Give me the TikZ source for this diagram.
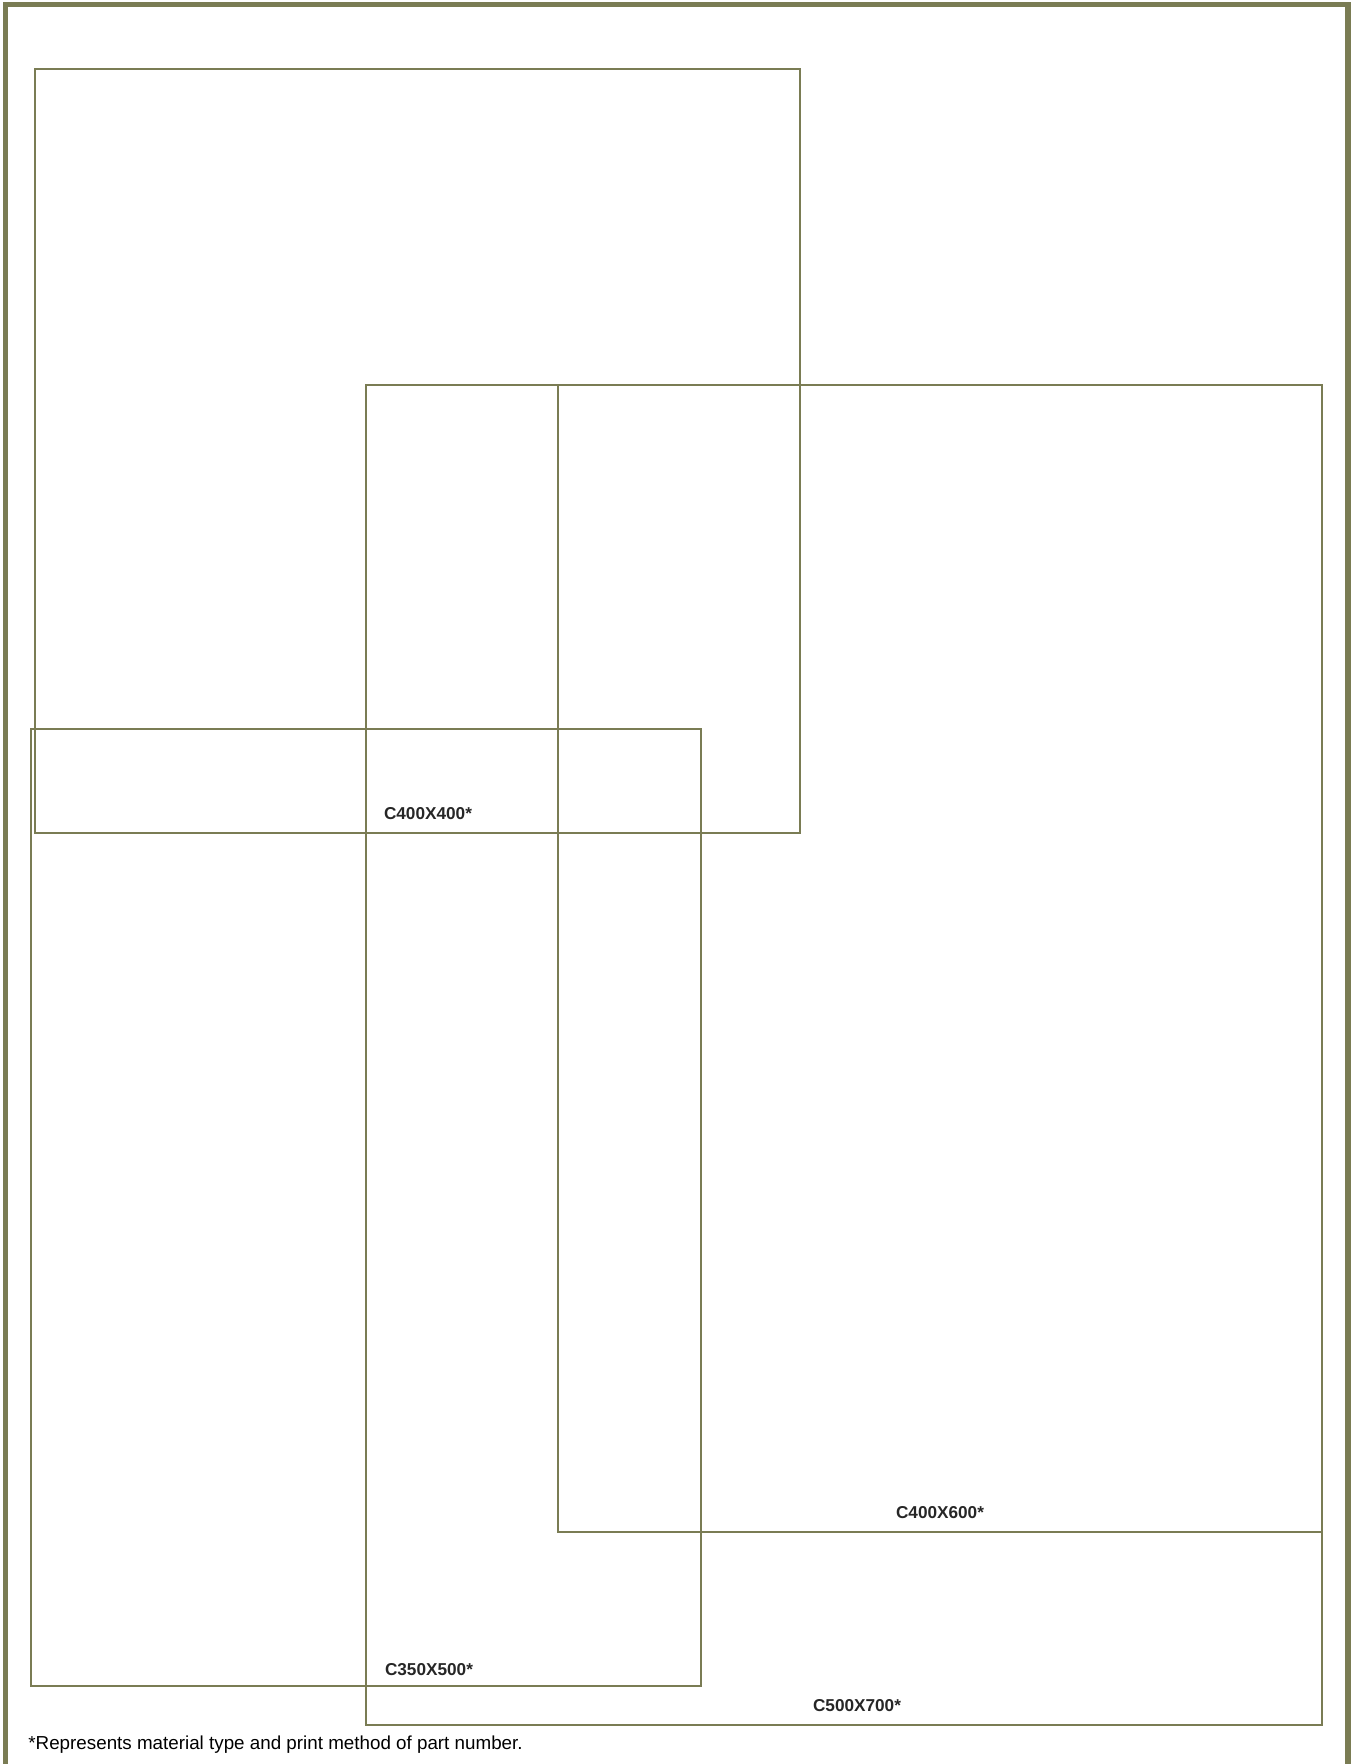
\documentclass[tikz,border=0pt]{standalone}
\usepackage{fontspec}
\setmainfont{Liberation Sans}
\definecolor{olive}{RGB}{122,124,84}
\tikzset{
  sheet/.style={draw=olive, line width=1.4pt},
  frame/.style={draw=olive, line width=2.8pt},
  size/.style={font=\fontsize{8.6pt}{10pt}\selectfont\bfseries, text=black!85, inner sep=0pt},
}
\begin{document}
\begin{tikzpicture}[x=0.5pt,y=-0.5pt]
  \useasboundingbox (0,0) rectangle (1351,1764);
  \draw[frame] (5.5,1764) -- (5.5,4.5) -- (1348,4.5) -- (1348,1764);
  % paper sizes
  \draw[sheet] (35,69) rectangle (800,833);
  \draw[sheet] (31,729) rectangle (701,1686);
  \draw[sheet] (366,385) rectangle (1322,1725);
  \draw[sheet] (558,385) rectangle (1322,1532);
  \node[size] (c400x400) at (428,814) {C400X400*};
  \node[size] (c400x600) at (940,1513) {C400X600*};
  \node[size] (c350x500) at (429,1670) {C350X500*};
  \node[size] (c500x700) at (857,1706) {C500X700*};
  \node[anchor=west, inner sep=0pt, font=\fontsize{9.4pt}{11pt}\selectfont] (note) at (28,1745)
    {*Represents material type and print method of part number.};
\end{tikzpicture}
\end{document}
